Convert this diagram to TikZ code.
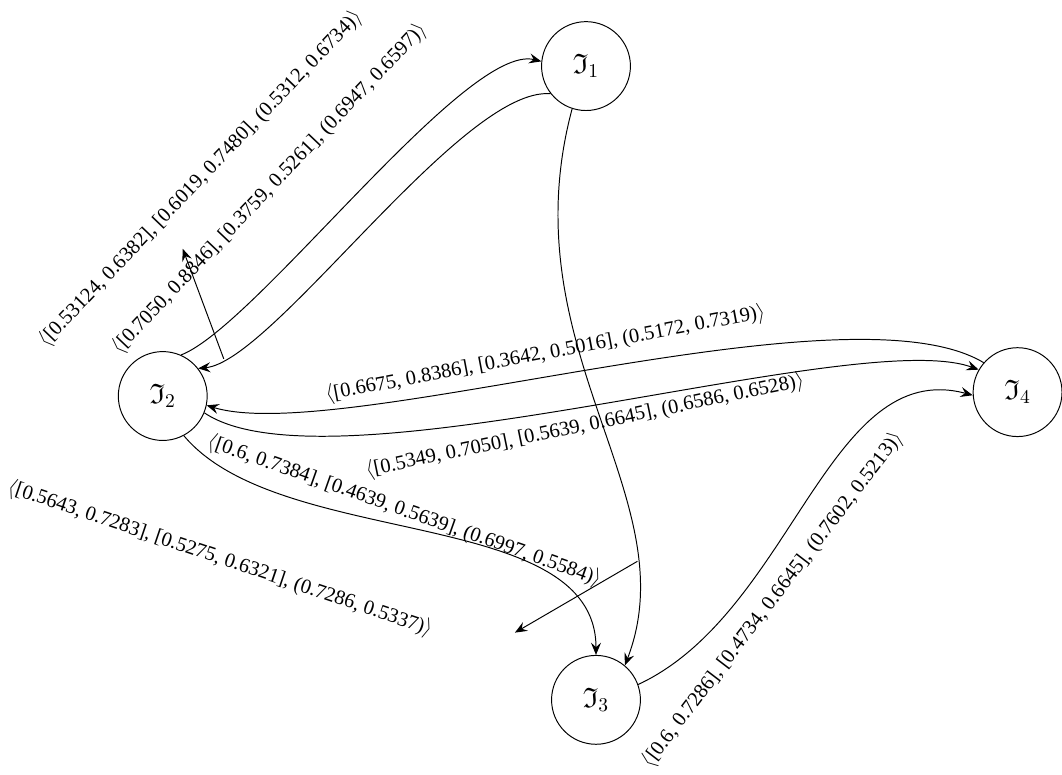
\documentclass[tikz,border=0pt]{standalone}
\usepackage{amsmath}
\usepackage{amssymb}
\usepackage{fontspec}
\setmainfont{Liberation Serif}
\usepackage{tikz}
\usetikzlibrary{arrows.meta}
\newcommand{\lbl}[1]{$\langle$#1$\rangle$}

\begin{document}
\begin{tikzpicture}[font=\fontsize{10.5}{12}\selectfont, line width=0.5pt,
		>={Stealth[length=2.2mm, width=1.8mm, inset=0.8mm]},
		state/.style={circle, draw, minimum size=1.6cm, inner sep=0pt, font=\Large}]
		\useasboundingbox (0,0) rectangle (19.12,13.95);
		
		\node [state] (I1) at (10.55,12.76) {$\mathfrak{I}_1$};
		\node [state] (I2) at (2.93,6.82) {$\mathfrak{I}_2$};
		\node [state] (I3) at (10.73,1.35) {$\mathfrak{I}_3$};
		\node [state] (I4) at (18.32,6.89) {$\mathfrak{I}_4$};
		
		\draw [->] (I2.66) .. controls +(21:1.45) and +(166:1.4) .. (I1.174);
		\draw [->] (I1.218) .. controls +(175:1.6) and +(5:1.35) .. coordinate[pos=0.9] (a21) (I2.38);
		\draw [->] (I1.252) .. controls +(-105:4.5) and +(69:3.24) .. coordinate[pos=0.79] (a13) (I3.50);
		\draw [->] (I2.-62) .. controls +(-50:2.7) and +(90:2.7) .. (I3.90);
		\draw [->] (I4.139) .. controls +(149:2.88) and +(-17:2.52) .. (I2.-12);
		\draw [->] (I2.-22) .. controls +(-34:2.7) and +(160:2.34) .. (I4.150);
		\draw [->] (I3.20) .. controls +(25:3.06) and +(165:2.7) .. (I4.184);
		
		\coordinate (t21) at (3.29,9.47);
		\coordinate (t13) at (9.27,2.56);
		\draw [->] (a21) -- (t21);
		\draw [->] (a13) -- (t13);
		
		\node (l21a) [rotate=46.2] at (3.61,10.73) {\lbl{[0.53124, 0.6382], [0.6019, 0.7480], (0.5312, 0.6734)}};
		\node (l12) [rotate=46.5] at (4.85,10.55) {\lbl{[0.7050, 0.8846], [0.3759, 0.5261], (0.6947, 0.6597)}};
		\node (l42) [rotate=10.7] at (9.82,7.58) {\lbl{[0.6675, 0.8386], [0.3642, 0.5016], (0.5172, 0.7319)}};
		\node (l24) [rotate=11.6] at (10.53,6.28) {\lbl{[0.5349, 0.7050], [0.5639, 0.6645], (0.6586, 0.6528)}};
		\node (l23) [rotate=-19.5] at (7.28,4.75) {\lbl{[0.6, 0.7384], [0.4639, 0.5639], (0.6997, 0.5584)}};
		\node (l13) [rotate=-18.7] at (3.96,3.89) {\lbl{[0.5643, 0.7283], [0.5275, 0.6321], (0.7286, 0.5337)}};
		\node (l34) [rotate=52.6] at (13.91,3.15) {\lbl{[0.6, 0.7286], [0.4734, 0.6645], (0.7602, 0.5213)}};
	\end{tikzpicture}
\end{document}
